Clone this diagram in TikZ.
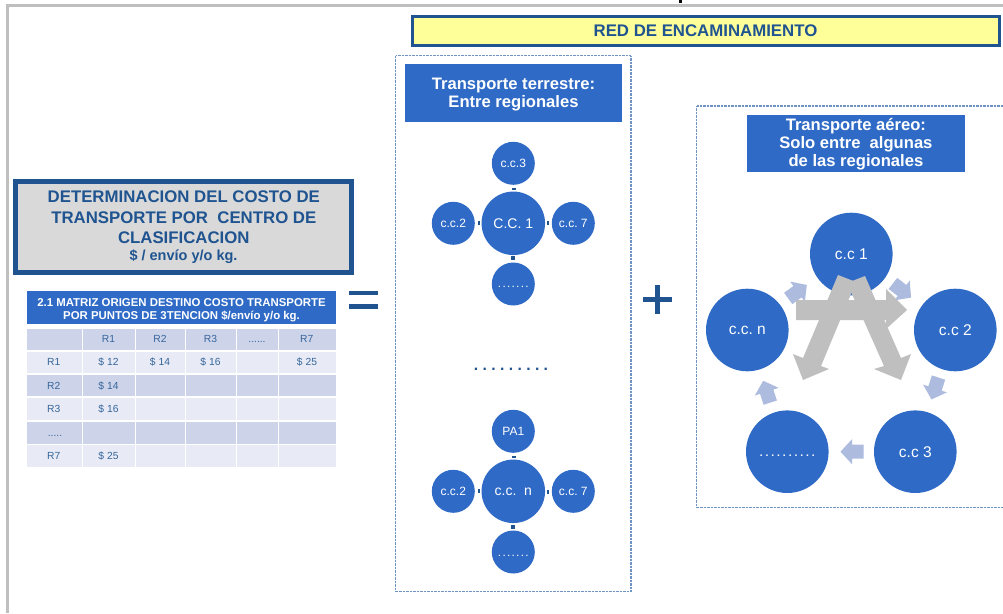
\documentclass[tikz,border=0pt]{standalone}
\usepackage{fontspec}
\setmainfont{Liberation Sans}
\definecolor{ccblue}{HTML}{2F6BC6}
\definecolor{navy}{HTML}{1F5490}
\definecolor{rowa}{HTML}{CDD4EA}
\definecolor{rowb}{HTML}{E8EBF5}
\definecolor{lightarrow}{HTML}{ADBBDF}
\definecolor{bigarrow}{HTML}{BFBFBF}
\definecolor{palegray}{HTML}{D9D9D9}
\definecolor{paleyellow}{HTML}{FFFF99}
\definecolor{txtgray}{HTML}{35659B}
\definecolor{dotcol}{HTML}{6F93C2}
\newcommand{\fs}[1]{\fontsize{#1}{#1}\selectfont}
\newcommand{\fsb}[2]{\fontsize{#1}{#2}\selectfont}
\tikzset{
 circ/.style={circle,fill=ccblue,inner sep=0pt,text=white,align=center},
 small/.style={circ,minimum size=43pt,font=\fs{12}},
 mid/.style={circ,minimum size=63.5pt,font=\fs{14}},
 large/.style={circ,minimum size=82.6pt,font=\fs{15.5}},
 head/.style={fill=ccblue,text=white,font=\bfseries\fsb{16.6}{18},align=center,inner sep=0pt,line width=0pt},
 dotbox/.style={draw=dotcol,line width=1.3pt,dash pattern=on 0.9pt off 0.5pt},
 cell/.style={inner sep=0pt,text=txtgray,font=\fs{10.3},anchor=center},
 dotlabel/.style={inner sep=0pt,text=white,font=\bfseries\fs{8.2}},
 tick/.style={fill=navy},
 lar/.style={fill=lightarrow}
}
\newcommand{\rowbar}[3]{%
 \foreach \xa/\xb in {27/82,83/135,136/185,186/236,237/278,279/336}{\fill[#3] (\xa,#1) rectangle (\xb,#2);}}
\newcommand{\lightarr}[3]{%
 \fill[lar,shift={(#1,#2)},rotate=#3] (-11.5,-7) -- (0,-7) -- (0,-12.5) -- (11.5,0) -- (0,12.5) -- (0,7) -- (-11.5,7) -- cycle;}
\begin{document}
\frenchspacing
\begin{tikzpicture}[x=1pt,y=-1pt]
\useasboundingbox (0,0) rectangle (1003,613);
\fill[white] (0,0) rectangle (1003,613);
% frame
\fill[bigarrow] (6,4) rectangle (1003,7);
\fill[bigarrow] (6,4) rectangle (9,613);
\fill[black] (679,0) rectangle (682,3);
% left title
\node[draw=navy,fill=palegray,line width=5pt,minimum width=336pt,minimum height=91.5pt,inner sep=0pt] (title) at (183.8,227) {};
\node[text=navy,font=\bfseries\fsb{16.8}{20.3},align=center,inner sep=0pt] (titlet) at (183.8,217.5) {DETERMINACION DEL COSTO DE\\TRANSPORTE POR~~CENTRO DE\\CLASIFICACION};
\node[text=navy,font=\bfseries\fs{14.5},inner sep=0pt] (titles) at (183.5,256.5) {\$ / envío y/o kg.};
% table head
\node[head,minimum width=309pt,minimum height=33pt,font=\bfseries\fsb{11.4}{13}] (thead) at (181.5,307.5) {\rule{0pt}{12.5pt}2.1 MATRIZ ORIGEN DESTINO COSTO TRANSPORTE\\POR PUNTOS DE 3TENCION \$/envío y/o kg.};
\rowbar{329}{350}{rowa}
\rowbar{352}{373}{rowb}
\rowbar{375}{396}{rowa}
\rowbar{398}{420}{rowb}
\rowbar{422}{444}{rowa}
\rowbar{445}{467}{rowb}
\node[cell] (h1) at (108.5,339) {R1};
\node[cell] (h2) at (160,339) {R2};
\node[cell] (h3) at (210.5,339) {R3};
\node[cell] (h4) at (257,342) {......};
\node[cell] (h5) at (306.7,339) {R7};
\node[cell] (r1) at (53.7,362) {R1};
\node[cell] (r2) at (53.7,386) {R2};
\node[cell] (r3) at (53.7,409) {R3};
\node[cell] (r4) at (55,435.5) {.....};
\node[cell] (r7) at (53.7,456) {R7};
\node[cell] (v11) at (108.5,362) {\$ 12};
\node[cell] (v12) at (160,362) {\$ 14};
\node[cell] (v13) at (210.5,362) {\$ 16};
\node[cell] (v17) at (307,362) {\$ 25};
\node[cell] (v21) at (108.5,386) {\$ 14};
\node[cell] (v31) at (108.5,409) {\$ 16};
\node[cell] (v71) at (108.5,456) {\$ 25};
% equals
\fill[navy] (348.5,290.5) rectangle (378,295);
\fill[navy] (348.5,304) rectangle (378,309);
% plus
\fill[navy] (642.5,297) rectangle (672,302);
\fill[navy] (654.5,285) rectangle (660,314);
% red de encaminamiento
\node[draw=navy,fill=paleyellow,line width=3pt,minimum width=587pt,minimum height=29pt,inner sep=0pt,text=navy,font=\bfseries\fs{16.8}] (red) at (705.5,30.5) {RED DE ENCAMINAMIENTO};
% panels
\draw[dotbox] (395.5,55.7) rectangle (631,591.7);
\draw[dotbox] (1003,106) -- (696.5,106) -- (696.5,507.7) -- (1003,507.7);
\node[head,minimum width=217pt,minimum height=58pt] (terr) at (513.5,93.3) {\rule{0pt}{14.5pt}Transporte terrestre:\\Entre regionales};
\node[head,minimum width=217.7pt,minimum height=57pt] (aer) at (855.9,143.5) {\rule{0pt}{14.5pt}Transporte aéreo:\\Solo entre~~algunas\\de las regionales};
% cluster 1
\node[mid] (c1) at (513.3,223.3) {C.C. 1};
\node[small] (c1a) at (513.3,163.3) {c.c.3};
\node[small] (c1b) at (453.3,223.3) {c.c.2};
\node[small] (c1c) at (573.3,223.3) {c.c. 7};
\node[small] (c1d) at (513.3,284) {};
\node[dotlabel] (c1dt) at (513.3,287) {. . . . . . .};
\fill[tick] (512,188) rectangle (516,190);
\fill[tick] (478,221) rectangle (480,225);
\fill[tick] (547,221) rectangle (549,225);
\fill[tick] (511,256) rectangle (515,260);
% dots
\node[inner sep=0pt,text=navy,font=\bfseries\fs{15.7}] (gap) at (511,369.5) {. . . . . . . . .};
% cluster 2
\node[mid] (c2) at (513.3,491.3) {c.c.~~n};
\node[small] (c2a) at (513.3,431.3) {PA1};
\node[small] (c2b) at (453.3,491.3) {c.c.2};
\node[small] (c2c) at (573.3,491.3) {c.c. 7};
\node[small] (c2d) at (513.3,552) {};
\node[dotlabel] (c2dt) at (513.3,556) {. . . . . . .};
\fill[tick] (512,456) rectangle (516,458);
\fill[tick] (478,489) rectangle (480,493);
\fill[tick] (547,490) rectangle (549,494);
\fill[tick] (511,525) rectangle (515,529);
% air ring
\node[large] (a1) at (851.3,254) {c.c 1};
\node[large] (a2) at (955.3,330) {c.c 2};
\node[large] (a3) at (915.3,451.7) {c.c 3};
\node[large] (a4) at (787.3,451.7) {};
\node[dotlabel,font=\bfseries\fs{10.4}] (a4t) at (787.3,456) {. . . . . . . . . .};
\node[large] (an) at (747.3,330) {c.c. n};
% light arrows
\lightarr{902}{290.5}{-38}
\lightarr{935}{388.5}{-108}
\lightarr{852}{451.7}{180}
\lightarr{766.7}{391.7}{108}
\lightarr{797.5}{291.7}{36}
% big gray arrows
\fill[bigarrow] (796,300) -- (886,300) -- (886,289) -- (907,310) -- (886,329) -- (886,320) -- (796,320) -- cycle;
\fill[bigarrow] (838,275) -- (856,282) -- (821,366) -- (829,369) -- (803,380) -- (793,354) -- (803,358) -- cycle;
\fill[bigarrow] (865,276) -- (847,283) -- (884,366) -- (874,369) -- (901,380) -- (911,354) -- (901,358) -- cycle;
\end{tikzpicture}
\end{document}
